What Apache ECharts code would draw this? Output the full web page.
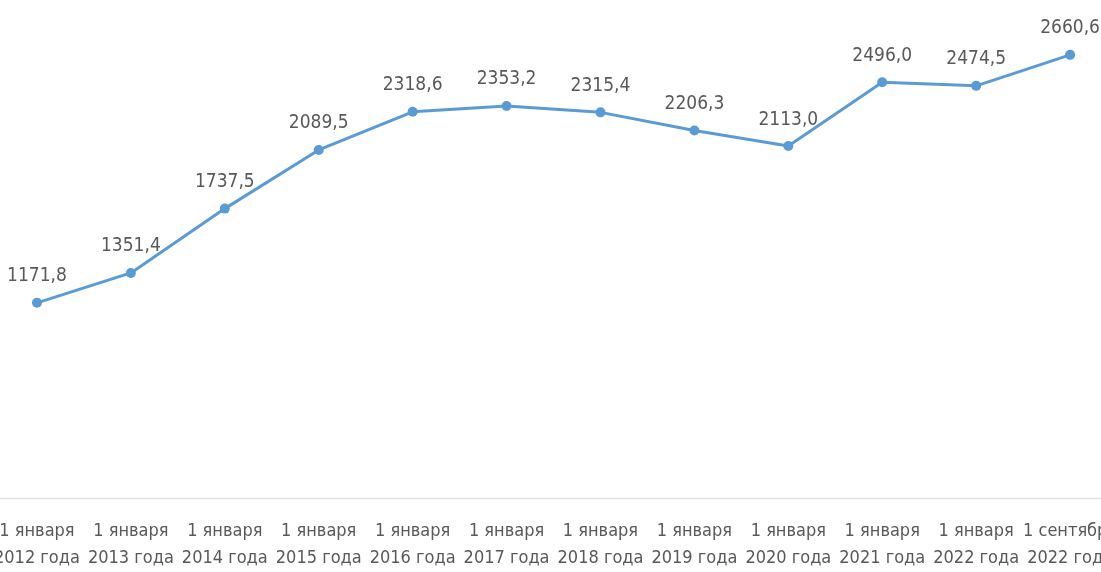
<!DOCTYPE html>
<html>
<head>
<meta charset="utf-8">
<script src="https://cdn.jsdelivr.net/npm/echarts@6/dist/echarts.min.js"></script>
<style>
  html, body { margin: 0; padding: 0; background: #ffffff; overflow: hidden; width: 1101px; height: 572px; }
  /* plot area runs slightly past the page edges on the left, right and top */
  #chart { position: absolute; left: -10px; top: -5px; width: 1130px; height: 577px; }
</style>
</head>
<body>
<div id="chart"></div>
<script>
// Dates of each observation
const categories = [
  '1 января\n2012 года', '1 января\n2013 года', '1 января\n2014 года',
  '1 января\n2015 года', '1 января\n2016 года', '1 января\n2017 года',
  '1 января\n2018 года', '1 января\n2019 года', '1 января\n2020 года',
  '1 января\n2021 года', '1 января\n2022 года', '1 сентября\n2022 года'
];
// Values at each date
const values = [1171.8, 1351.4, 1737.5, 2089.5, 2318.6, 2353.2, 2315.4, 2206.3, 2113.0, 2496.0, 2474.5, 2660.6];

const FONT = '"DejaVu Sans Condensed", "Liberation Sans Narrow", "Liberation Sans", sans-serif';
const TEXT = '#595959';
const LINE = '#5B9BD5';

const chart = echarts.init(document.getElementById('chart'), null, { renderer: 'canvas' });
chart.setOption({
  animation: false,
  grid: { left: 0, right: 0, top: 0, bottom: 74, containLabel: false },
  xAxis: {
    type: 'category',
    data: categories,
    boundaryGap: true,
    axisLine: { lineStyle: { color: '#d9d9d9', width: 1 } },
    axisTick: { show: false },
    axisLabel: {
      interval: 0,
      color: TEXT,
      fontFamily: FONT,
      fontSize: 18,
      lineHeight: 27,
      margin: 20
    }
  },
  yAxis: {
    type: 'value',
    min: 0,
    max: 3020,
    show: false,
    splitLine: { show: false }
  },
  series: [{
    type: 'line',
    data: values,
    symbol: 'circle',
    symbolSize: 10,
    lineStyle: { color: LINE, width: 3 },
    itemStyle: { color: LINE },
    label: {
      show: true,
      position: 'top',
      distance: 12,
      color: TEXT,
      fontFamily: FONT,
      fontSize: 19,
      formatter: p => p.value.toFixed(1).replace('.', ',')
    }
  }]
});
</script>
</body>
</html>
